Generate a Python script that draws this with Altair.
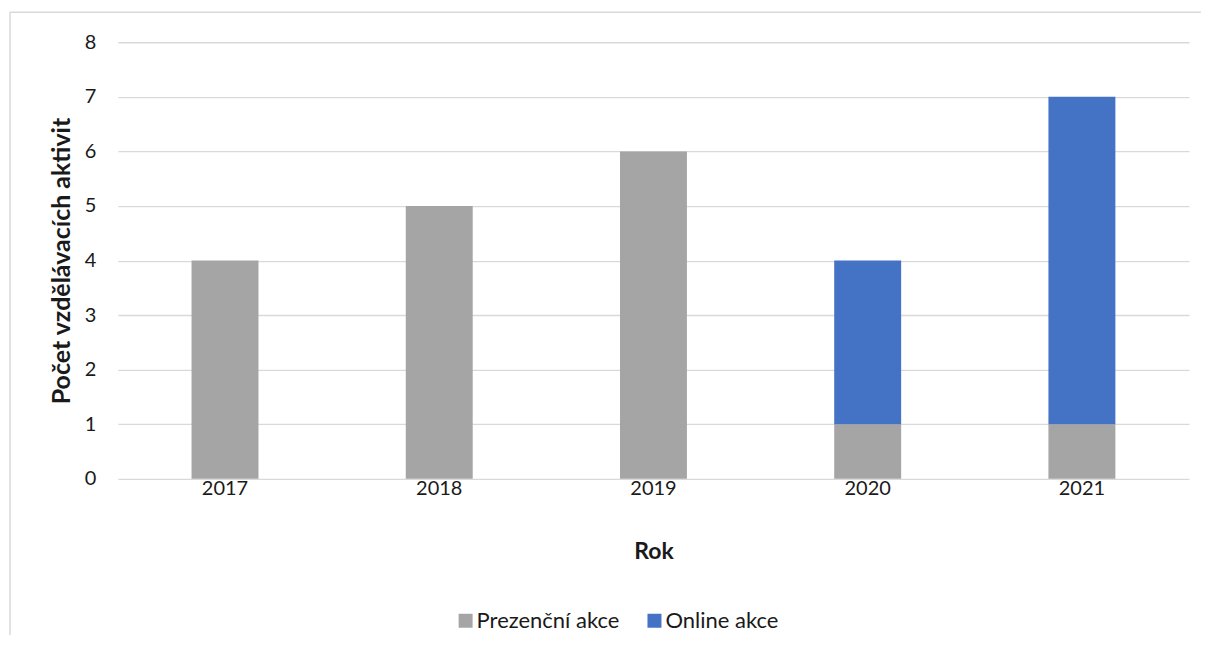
import altair as alt
import pandas as pd

years = ["2017", "2018", "2019", "2020", "2021"]
prezencni = [4, 5, 6, 1, 1]
online = [0, 0, 0, 3, 6]
series_names = ["Prezenční akce", "Online akce"]
colors = ["#a5a5a5", "#4472c4"]

rows = []
for i, y in enumerate(years):
    rows.append({"Rok": y, "Typ": series_names[0], "Počet": prezencni[i], "ord": 0})
    rows.append({"Rok": y, "Typ": series_names[1], "Počet": online[i], "ord": 1})
df = pd.DataFrame(rows)

FONT = "Lato"
TXT = "#1a1a1a"

bars = alt.Chart(df).mark_bar(stroke=None).encode(
    x=alt.X("Rok:N", sort=years,
            scale=alt.Scale(paddingInner=0.6875, paddingOuter=0.34375),
            axis=alt.Axis(title="Rok", labelAngle=0, domain=False, ticks=False,
                          grid=False, labelPadding=0, titlePadding=42, labelFontSize=20,
                          titleFontSize=23, titleFontWeight="bold", labelColor=TXT,
                          titleColor=TXT, labelFont=FONT, titleFont=FONT)),
    y=alt.Y("Počet:Q", stack="zero",
            scale=alt.Scale(domain=[0, 8], nice=False),
            axis=alt.Axis(title="Počet vzdělávacích aktivit", values=list(range(0, 9)),
                          domain=False, ticks=False, labelPadding=22,
                          titlePadding=10, labelFontSize=20, titleFontSize=25,
                          titleFontWeight="bold", labelColor=TXT, titleColor=TXT,
                          gridColor="#d9d9d9", gridWidth=1.3, labelFont=FONT,
                          titleFont=FONT)),
    color=alt.Color("Typ:N", sort=series_names,
                    scale=alt.Scale(domain=series_names, range=colors),
                    legend=alt.Legend(title=None, orient="none", direction="horizontal",
                                      legendX=337, legendY=568, symbolType="square",
                                      symbolSize=196, symbolStrokeWidth=0,
                                      labelFontSize=22, labelFont=FONT, labelColor=TXT,
                                      columnPadding=24, padding=0, labelOffset=0)),
    order=alt.Order("ord:Q"),
)

frame = alt.Data(values=[{"a": 1}])
top_line = alt.Chart(frame).mark_rule(stroke="#d9d9d9", strokeWidth=1.5).encode(
    x=alt.value(-108), x2=alt.value(1400), y=alt.value(-30)
)
left_line = alt.Chart(frame).mark_rule(stroke="#d9d9d9", strokeWidth=1.5).encode(
    x=alt.value(-108), y=alt.value(-30), y2=alt.value(900)
)

chart = alt.layer(top_line, left_line, bars).properties(
    width=1072, height=437,
    autosize=alt.AutoSizeParams(type="none"),
    padding={"left": 110, "top": 34, "right": 12, "bottom": 156},
    background="white",
).configure_view(stroke=None)

chart.save("out.html", embed_options={"renderer": "svg", "actions": False})
